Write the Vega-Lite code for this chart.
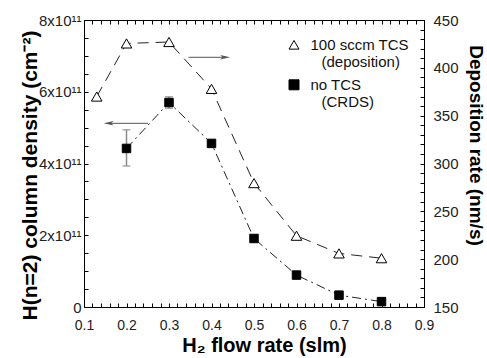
{
  "$schema": "https://vega.github.io/schema/vega-lite/v6.json",
  "width": 340,
  "height": 287,
  "autosize": "none",
  "padding": {"left": 84, "top": 20, "right": 63, "bottom": 51},
  "background": "white",
  "datasets": {
    "crds": [
      {"x": 0.2, "y": 4.42e11, "series": "no TCS (CRDS)"},
      {"x": 0.3, "y": 5.70e11, "series": "no TCS (CRDS)"},
      {"x": 0.4, "y": 4.56e11, "series": "no TCS (CRDS)"},
      {"x": 0.5, "y": 1.91e11, "series": "no TCS (CRDS)"},
      {"x": 0.6, "y": 0.89e11, "series": "no TCS (CRDS)"},
      {"x": 0.7, "y": 0.33e11, "series": "no TCS (CRDS)"},
      {"x": 0.8, "y": 0.15e11, "series": "no TCS (CRDS)"}
    ],
    "err": [
      {"x": 0.2, "y": 3.93e11, "bar": "a"},
      {"x": 0.2, "y": 4.94e11, "bar": "a"},
      {"x": 0.3, "y": 5.54e11, "bar": "b"},
      {"x": 0.3, "y": 5.86e11, "bar": "b"}
    ],
    "dep": [
      {"x": 0.13, "y": 370, "series": "100 sccm TCS (deposition)"},
      {"x": 0.2, "y": 425.5, "series": "100 sccm TCS (deposition)"},
      {"x": 0.3, "y": 427, "series": "100 sccm TCS (deposition)"},
      {"x": 0.4, "y": 378, "series": "100 sccm TCS (deposition)"},
      {"x": 0.5, "y": 279.5, "series": "100 sccm TCS (deposition)"},
      {"x": 0.6, "y": 224.5, "series": "100 sccm TCS (deposition)"},
      {"x": 0.7, "y": 206, "series": "100 sccm TCS (deposition)"},
      {"x": 0.8, "y": 201, "series": "100 sccm TCS (deposition)"}
    ],
    "arrowL": [{"x": 0.158, "xs": 0.251, "y": 5.12e11}],
    "arrowR": [{"x": 0.432, "xs": 0.346, "y": 411}]
  },
  "layer": [
    {
      "encoding": {
        "x": {
          "field": "x", "type": "quantitative",
          "scale": {"domain": [0.1, 0.9], "nice": false, "zero": false},
          "axis": {
            "orient": "bottom",
            "title": "H₂ flow rate (slm)",
            "values": [0.1,0.12,0.14,0.16,0.18,0.2,0.22,0.24,0.26,0.28,0.3,0.32,0.34,0.36,0.38,0.4,0.42,0.44,0.46,0.48,0.5,0.52,0.54,0.56,0.58,0.6,0.62,0.64,0.66,0.68,0.7,0.72,0.74,0.76,0.78,0.8,0.82,0.84,0.86,0.88,0.9],
            "labelExpr": "abs(datum.value*10 - round(datum.value*10)) < 0.000001 ? format(datum.value, '.1f') : ''",
            "offset": -4,
            "domain": false,
            "ticks": true,
            "tickSize": 4,
            "labelPadding": 11,
            "labelFontSize": 14,
            "labelFlush": false,
            "labelOverlap": false,
            "titleFontSize": 20,
            "titleX": 180,
            "titleY": 42,
            "titleBaseline": "middle"
          }
        },
        "y": {
          "field": "y", "type": "quantitative",
          "scale": {"domain": [0, 8e11], "nice": false, "zero": false},
          "axis": {
            "orient": "left",
            "title": "H(n=2) column density (cm⁻²)",
            "values": [0,5e10,1e11,1.5e11,2e11,2.5e11,3e11,3.5e11,4e11,4.5e11,5e11,5.5e11,6e11,6.5e11,7e11,7.5e11,8e11],
            "labelExpr": "datum.value % 2e11 == 0 ? (datum.value == 0 ? '0' : format(datum.value/1e11, 'd') + 'x10¹¹') : ''",
            "offset": -4,
            "domain": false,
            "ticks": true,
            "tickSize": 4,
            "labelPadding": 3,
            "labelFontSize": 15,
            "labelFlush": false,
            "labelOverlap": false,
            "titleFontSize": 21,
            "titleX": -58,
            "titleY": 155,
            "titleBaseline": "middle"
          }
        }
      },
      "layer": [
        {
          "data": {"name": "err"},
          "mark": {"type": "line", "color": "#8a8a8a", "strokeWidth": 1.5},
          "encoding": {"detail": {"field": "bar"}}
        },
        {
          "data": {"name": "err"},
          "mark": {"type": "tick", "orient": "horizontal", "color": "#8a8a8a", "size": 8, "thickness": 1.5}
        },
        {
          "data": {"name": "crds"},
          "mark": {"type": "line", "color": "#222", "strokeWidth": 1, "strokeDash": [9, 4, 2, 4]},
          "encoding": {}
        },
        {
          "data": {"name": "crds"},
          "mark": {"type": "point", "filled": true, "stroke": "black", "strokeWidth": 1, "size": 72, "opacity": 1},
          "encoding": {
            "shape": {"field": "series", "type": "nominal",
              "scale": {"domain": ["100 sccm TCS (deposition)", "no TCS (CRDS)"], "range": ["triangle-up", "square"]},
              "legend": {"title": null, "orient": "none", "legendX": 202.5, "legendY": 17.3, "padding": 0,
                "labelBaseline": "middle", "labelOffset": 9, "rowPadding": 7, "symbolSize": 100,
                "labelExpr": "datum.label == 'no TCS (CRDS)' ? ['no TCS', '⠀(CRDS)'] : ['100 sccm TCS', '⠀(deposition)']"}},
            "fill": {"field": "series", "type": "nominal",
              "scale": {"domain": ["100 sccm TCS (deposition)", "no TCS (CRDS)"], "range": ["white", "black"]},
              "legend": {"title": null, "orient": "none", "legendX": 202.5, "legendY": 17.3, "padding": 0,
                "labelBaseline": "middle", "labelOffset": 9, "rowPadding": 7, "symbolSize": 100,
                "labelExpr": "datum.label == 'no TCS (CRDS)' ? ['no TCS', '⠀(CRDS)'] : ['100 sccm TCS', '⠀(deposition)']"}}
          }
        },
        {
          "data": {"name": "arrowL"},
          "mark": {"type": "rule", "color": "#555", "strokeWidth": 1},
          "encoding": {"x2": {"field": "xs"}}
        },
        {
          "data": {"name": "arrowL"},
          "mark": {"type": "point", "shape": "M-1,0L1,-0.45L0.5,0L1,0.45Z", "filled": true, "color": "#555", "size": 100, "opacity": 1}
        }
      ]
    },
    {
      "encoding": {
        "x": {
          "field": "x", "type": "quantitative",
          "scale": {"domain": [0.1, 0.9], "nice": false, "zero": false},
          "axis": {
            "orient": "top",
            "title": null,
            "labels": false,
            "values": [0.1,0.12,0.14,0.16,0.18,0.2,0.22,0.24,0.26,0.28,0.3,0.32,0.34,0.36,0.38,0.4,0.42,0.44,0.46,0.48,0.5,0.52,0.54,0.56,0.58,0.6,0.62,0.64,0.66,0.68,0.7,0.72,0.74,0.76,0.78,0.8,0.82,0.84,0.86,0.88,0.9],
            "offset": -4,
            "domain": false,
            "ticks": true,
            "tickSize": 4
          }
        },
        "y": {
          "field": "y", "type": "quantitative",
          "scale": {"domain": [150, 450], "nice": false, "zero": false},
          "axis": {
            "orient": "right",
            "title": "Deposition rate (nm/s)",
            "values": [150,160,170,180,190,200,210,220,230,240,250,260,270,280,290,300,310,320,330,340,350,360,370,380,390,400,410,420,430,440,450],
            "labelExpr": "datum.value % 50 == 0 ? format(datum.value, 'd') : ''",
            "offset": -4,
            "domain": false,
            "ticks": true,
            "tickSize": 4,
            "labelPadding": 9,
            "labelFontSize": 15,
            "labelFlush": false,
            "labelOverlap": false,
            "titleFontSize": 19,
            "titleX": 55,
            "titleY": 125,
            "titleBaseline": "middle"
          }
        }
      },
      "layer": [
        {
          "data": {"name": "dep"},
          "mark": {"type": "line", "color": "#222", "strokeWidth": 1, "strokeDash": [11, 7]},
          "encoding": {}
        },
        {
          "data": {"name": "dep"},
          "mark": {"type": "point", "filled": true, "stroke": "black", "strokeWidth": 1, "size": 112, "opacity": 1},
          "encoding": {
            "shape": {"field": "series", "type": "nominal",
              "scale": {"domain": ["100 sccm TCS (deposition)", "no TCS (CRDS)"], "range": ["triangle-up", "square"]},
              "legend": {"title": null, "orient": "none", "legendX": 202.5, "legendY": 17.3, "padding": 0,
                "labelBaseline": "middle", "labelOffset": 9, "rowPadding": 7, "symbolSize": 100,
                "labelExpr": "datum.label == 'no TCS (CRDS)' ? ['no TCS', '⠀(CRDS)'] : ['100 sccm TCS', '⠀(deposition)']"}},
            "fill": {"field": "series", "type": "nominal",
              "scale": {"domain": ["100 sccm TCS (deposition)", "no TCS (CRDS)"], "range": ["white", "black"]},
              "legend": {"title": null, "orient": "none", "legendX": 202.5, "legendY": 17.3, "padding": 0,
                "labelBaseline": "middle", "labelOffset": 9, "rowPadding": 7, "symbolSize": 100,
                "labelExpr": "datum.label == 'no TCS (CRDS)' ? ['no TCS', '⠀(CRDS)'] : ['100 sccm TCS', '⠀(deposition)']"}}
          }
        },
        {
          "data": {"name": "arrowR"},
          "mark": {"type": "rule", "color": "#555", "strokeWidth": 1},
          "encoding": {"x2": {"field": "xs"}}
        },
        {
          "data": {"name": "arrowR"},
          "mark": {"type": "point", "shape": "M1,0L-1,-0.45L-0.5,0L-1,0.45Z", "filled": true, "color": "#555", "size": 100, "opacity": 1}
        }
      ]
    }
  ],
  "resolve": {"scale": {"y": "independent"}, "axis": {"x": "independent", "y": "independent"}},
  "config": {
    "view": {"stroke": "black", "strokeWidth": 1},
    "font": "Liberation Sans",
    "axis": {
      "grid": false,
      "domainColor": "black",
      "domainWidth": 1,
      "tickColor": "black",
      "tickWidth": 1,
      "labelColor": "#222",
      "labelFont": "Liberation Sans",
      "titleFont": "Liberation Sans",
      "titleFontWeight": "bold",
      "titleColor": "black"
    },
    "legend": {
      "labelFont": "Liberation Sans",
      "labelFontSize": 15,
      "labelColor": "#111",
      "symbolStrokeWidth": 1
    }
  }
}
